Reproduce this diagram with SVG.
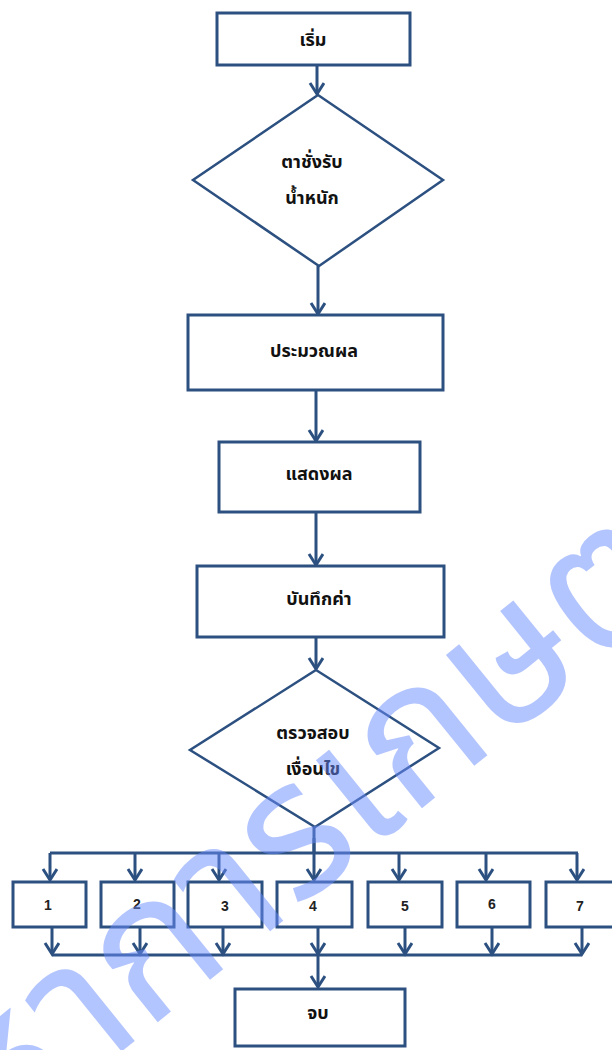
<svg xmlns="http://www.w3.org/2000/svg" width="612" height="1050" viewBox="0 0 612 1050">
<style>
.box{fill:#fff;stroke:#2c5080;stroke-width:3}
.dia{fill:#fff;stroke:#2c5080;stroke-width:2.5}
.con{fill:none;stroke:#2c5080;stroke-width:3}
.lbl{font-family:"Noto Sans Thai","Noto Sans","DejaVu Sans",sans-serif;font-size:18px;font-weight:bold;fill:#111;text-anchor:middle;dominant-baseline:central}
.num{font-family:"Liberation Sans",sans-serif;font-size:14px;font-weight:bold;fill:#222;text-anchor:middle;dominant-baseline:central}
.wm{font-family:"Noto Sans Thai","Noto Sans",sans-serif;font-size:190px;fill:#6a8cff;opacity:0.5}
</style>
<defs>
<marker id="ah" markerUnits="userSpaceOnUse" markerWidth="16" markerHeight="18" refX="12" refY="8" orient="auto" viewBox="0 0 16 18">
<path d="M1,1 L12,8 L1,15" fill="none" stroke="#2c5080" stroke-width="3"/>
</marker>
</defs>
<rect width="612" height="1050" fill="#fff"/>
<g id="connectors">
<path class="con" d="M317,65 V94" marker-end="url(#ah)"/>
<path class="con" d="M318,266 V314" marker-end="url(#ah)"/>
<path class="con" d="M316,390 V441" marker-end="url(#ah)"/>
<path class="con" d="M316,512 V565" marker-end="url(#ah)"/>
<path class="con" d="M316,637 V669" marker-end="url(#ah)"/>
<path class="con" d="M314,827 V852"/>
<path class="con" d="M50,853 H578"/>
<path class="con" d="M50,853 V880" marker-end="url(#ah)"/>
<path class="con" d="M135,853 V880" marker-end="url(#ah)"/>
<path class="con" d="M219,853 V880" marker-end="url(#ah)"/>
<path class="con" d="M314,838 V880" marker-end="url(#ah)"/>
<path class="con" d="M399,853 V880" marker-end="url(#ah)"/>
<path class="con" d="M486,853 V880" marker-end="url(#ah)"/>
<path class="con" d="M577,853 V880" marker-end="url(#ah)"/>
<path class="con" d="M52,955 H582"/>
<path class="con" d="M52,927 V954" marker-end="url(#ah)"/>
<path class="con" d="M140,927 V954" marker-end="url(#ah)"/>
<path class="con" d="M223,927 V954" marker-end="url(#ah)"/>
<path class="con" d="M318,927 V954" marker-end="url(#ah)"/>
<path class="con" d="M405,927 V954" marker-end="url(#ah)"/>
<path class="con" d="M492,927 V954" marker-end="url(#ah)"/>
<path class="con" d="M582,927 V954" marker-end="url(#ah)"/>
<path class="con" d="M318,955 V987" marker-end="url(#ah)"/>
</g>
<g id="start"><rect class="box" x="217" y="13" width="193" height="52"/><text class="lbl" x="313" y="40">เริ่ม</text></g>
<g id="scale"><polygon class="dia" points="318,95 443,180 319,266 193,180"/><text class="lbl" x="312" y="162">ตาชั่งรับ</text><text class="lbl" x="312" y="198">น้ำหนัก</text></g>
<g id="process"><rect class="box" x="188" y="315" width="255" height="75"/><text class="lbl" x="314" y="351">ประมวณผล</text></g>
<g id="display"><rect class="box" x="219" y="442" width="201" height="70"/><text class="lbl" x="319" y="474">แสดงผล</text></g>
<g id="record"><rect class="box" x="197" y="566" width="247" height="71"/><text class="lbl" x="319" y="599">บันทึกค่า</text></g>
<g id="check"><polygon class="dia" points="316,670 439,748 315,827 190,750"/><text class="lbl" x="313" y="733">ตรวจสอบ</text><text class="lbl" x="313" y="769">เงื่อนไข</text></g>
<g id="n1"><rect class="box" x="13" y="882" width="73" height="45"/><text class="num" x="48" y="905">1</text></g>
<g id="n2"><rect class="box" x="101" y="882" width="73" height="45"/><text class="num" x="137" y="904">2</text></g>
<g id="n3"><rect class="box" x="188" y="882" width="74" height="45"/><text class="num" x="225" y="906">3</text></g>
<g id="n4"><rect class="box" x="277" y="882" width="75" height="45"/><text class="num" x="313" y="906">4</text></g>
<g id="n5"><rect class="box" x="368" y="882" width="74" height="45"/><text class="num" x="405" y="906">5</text></g>
<g id="n6"><rect class="box" x="457" y="882" width="73" height="45"/><text class="num" x="492" y="904">6</text></g>
<g id="n7"><rect class="box" x="546" y="882" width="72" height="45"/><text class="num" x="580" y="906">7</text></g>
<g id="end"><rect class="box" x="235" y="989" width="170" height="57"/><text class="lbl" x="318" y="1013">จบ</text></g>
<text class="wm" transform="translate(0,1150) rotate(-39)">หาการเกษตร</text>
</svg>
